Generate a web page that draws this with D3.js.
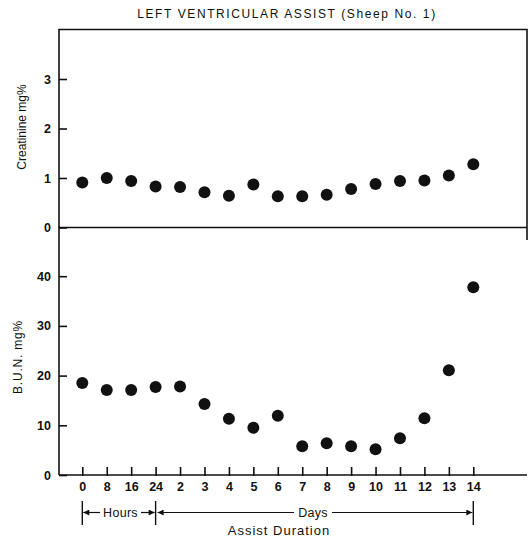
<!DOCTYPE html>
<html>
<head>
<meta charset="utf-8">
<script src="https://cdn.jsdelivr.net/npm/d3@7"></script>
<style>
  body { margin: 0; background: #fff; }
  svg { display: block; }
  text { font-family: "Liberation Sans", Arial, sans-serif; fill: #111; }
  .tick text { font-size: 12.5px; font-weight: bold; }
  .domain, .tick line { stroke: #111; stroke-width: 1.6; }
</style>
</head>
<body>
<div id="chart"></div>
<script>
// Categories along the x axis (first four are hours, the rest days)
const timeLabels = ["0", "8", "16", "24", "2", "3", "4", "5", "6", "7", "8", "9", "10", "11", "12", "13", "14"];
// Creatinine mg%
const creatinine = [0.91, 1.0, 0.94, 0.83, 0.82, 0.71, 0.64, 0.87, 0.63, 0.63, 0.66, 0.78, 0.88, 0.94, 0.95, 1.05, 1.28];
// B.U.N. mg%
const bun = [18.5, 17.1, 17.1, 17.7, 17.8, 14.3, 11.3, 9.5, 11.9, 5.8, 6.4, 5.8, 5.2, 7.4, 11.4, 21.1, 37.8];
const creatTicks = [0, 1, 2, 3];
const bunTicks = [0, 10, 20, 30, 40];

const W = 528, H = 541;
const left = 59, right = 527;

const svg = d3.select("#chart").append("svg")
    .attr("width", W)
    .attr("height", H);

const idx = timeLabels.map((d, i) => i);
const x = d3.scalePoint()
    .domain(idx)
    .range([82.3, 473.3]);

const yTop = d3.scaleLinear().domain([0, 4]).range([227.5, 29.5]);
const yBot = d3.scaleLinear().domain([0, 50]).range([475, 226.5]);

// title
svg.append("text")
    .attr("x", 287)
    .attr("y", 18)
    .attr("text-anchor", "middle")
    .style("font-size", "12px")
    .style("letter-spacing", "1.6px")
    .text("LEFT VENTRICULAR ASSIST (Sheep No. 1)");

// frame of the upper panel
svg.append("path")
    .attr("d", `M${left},${yTop(0)}V${yTop(4)}H${right}V240`)
    .attr("fill", "none")
    .attr("stroke", "#111")
    .attr("stroke-width", 1.6);

// middle line (0 of top panel) and bottom axis line
svg.append("line")
    .attr("x1", left).attr("x2", right)
    .attr("y1", yTop(0)).attr("y2", yTop(0))
    .attr("stroke", "#111").attr("stroke-width", 1.6);
svg.append("line")
    .attr("x1", left).attr("x2", right)
    .attr("y1", yBot(0)).attr("y2", yBot(0))
    .attr("stroke", "#111").attr("stroke-width", 1.6);

// y axes
svg.append("g")
    .attr("transform", `translate(${left},0)`)
    .call(d3.axisLeft(yTop).tickValues(creatTicks).tickFormat(d3.format("d"))
        .tickSizeInner(-8).tickSizeOuter(0).tickPadding(8))
    .call(g => g.select(".domain").remove());

svg.append("g")
    .attr("transform", `translate(${left},0)`)
    .call(d3.axisLeft(yBot).tickValues(bunTicks).tickFormat(d3.format("d"))
        .tickSizeInner(-8).tickSizeOuter(0).tickPadding(8))
    .call(g => g.select(".domain").attr("d", `M0,${yBot(0)}V${yBot(50)}`));

// x axis
svg.append("g")
    .attr("transform", `translate(0,${yBot(0) + 1})`)
    .call(d3.axisBottom(x).tickFormat(i => timeLabels[i]).tickSizeInner(-9).tickSizeOuter(0).tickPadding(6))
    .call(g => g.select(".domain").remove());

// axis titles
svg.append("text")
    .attr("transform", `translate(26,127) rotate(-90)`)
    .attr("text-anchor", "middle")
    .style("font-size", "12px")
    .text("Creatinine mg%");

svg.append("text")
    .attr("transform", `translate(22,357) rotate(-90)`)
    .attr("text-anchor", "middle")
    .style("font-size", "12px")
    .style("letter-spacing", "0.8px")
    .text("B.U.N. mg%");

// dots
svg.append("g")
    .selectAll("circle")
    .data(creatinine)
    .join("circle")
    .attr("cx", (d, i) => x(i))
    .attr("cy", d => yTop(d))
    .attr("r", 6)
    .attr("fill", "#111");

svg.append("g")
    .selectAll("circle")
    .data(bun)
    .join("circle")
    .attr("cx", (d, i) => x(i))
    .attr("cy", d => yBot(d))
    .attr("r", 6)
    .attr("fill", "#111");

// Hours / Days bracket
const defs = svg.append("defs");
defs.append("marker")
    .attr("id", "arr")
    .attr("viewBox", "0 0 10 10")
    .attr("refX", 10).attr("refY", 5)
    .attr("markerWidth", 9).attr("markerHeight", 6)
    .attr("markerUnits", "userSpaceOnUse")
    .attr("orient", "auto")
    .append("path")
    .attr("d", "M0,0L10,5L0,10Z")
    .attr("fill", "#111");

const bracketY = 512.5;
const xs = x(0), xh = x(3), xe = x(16);
[xs, xh, xe].forEach(v => {
    svg.append("line")
        .attr("x1", v).attr("x2", v)
        .attr("y1", 501).attr("y2", 525)
        .attr("stroke", "#111").attr("stroke-width", 1.4);
});

const seg = (a, b) => svg.append("line")
    .attr("x1", a).attr("x2", b)
    .attr("y1", bracketY).attr("y2", bracketY)
    .attr("stroke", "#111").attr("stroke-width", 1.2)
    .attr("marker-end", "url(#arr)");

seg(100, xs + 1);
seg(141, xh - 1);
seg(294, xh + 2);
seg(332, xe - 1);

svg.append("text")
    .attr("x", 120.5).attr("y", bracketY + 4.5)
    .attr("text-anchor", "middle")
    .style("font-size", "12.5px")
    .style("letter-spacing", "0.3px")
    .text("Hours");

svg.append("text")
    .attr("x", 313).attr("y", bracketY + 4.5)
    .attr("text-anchor", "middle")
    .style("font-size", "12.5px")
    .style("letter-spacing", "0.3px")
    .text("Days");

svg.append("text")
    .attr("x", 279).attr("y", 535)
    .attr("text-anchor", "middle")
    .style("font-size", "13px")
    .style("letter-spacing", "1px")
    .text("Assist Duration");
</script>
</body>
</html>
